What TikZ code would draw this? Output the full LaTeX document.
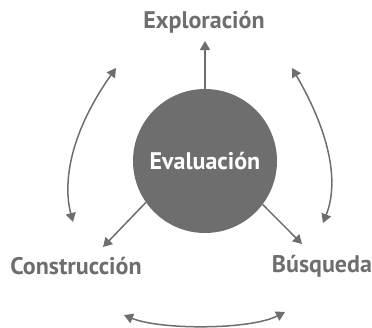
\documentclass[tikz,border=0pt]{standalone}
\usepackage{fontspec}
\setmainfont{PT Sans}
\usetikzlibrary{arrows.meta}
\definecolor{fg}{HTML}{6E6E6E}
\begin{document}
\begin{tikzpicture}[x=1pt,y=-1pt,
  lbl/.style={text=fg,font=\fontsize{24}{28}\selectfont\bfseries,inner sep=0pt},
  con/.style={draw=fg,line width=1.5pt,-{Triangle[length=9pt,width=10pt]}},
  dcon/.style={draw=fg,line width=1.5pt,{Triangle[length=9pt,width=10pt]}-{Triangle[length=9pt,width=10pt]}}]
\useasboundingbox (0,0) rectangle (372,327);
\node[circle,fill=fg,minimum size=144pt,inner sep=0pt,text=white,font=\fontsize{24}{28}\selectfont\bfseries] (E) at (205,161) {Evaluación};
\node[lbl] (X) at (204,22) {Exploración};
\node[lbl] (C) at (76,266) {Construcción};
\node[lbl] (B) at (322,266) {Búsqueda};
\coordinate (tX) at (205,41);
\coordinate (tC) at (103,247);
\coordinate (tB) at (302,244);
\coordinate (l1) at (116,68);
\coordinate (l2) at (73,222);
\coordinate (r1) at (292,68);
\coordinate (r2) at (323,223);
\coordinate (b1) at (124,315);
\coordinate (b2) at (285,312);
\draw[con] (E.north) -- (tX);
\draw[con] (E.-145) -- (tC);
\draw[con] (E.-37) -- (tB);
\draw[dcon] (l1) .. controls (72,130) and (62,180) .. (l2);
\draw[dcon] (r1) .. controls (328,130) and (340,180) .. (r2);
\draw[dcon] (b1) .. controls (160,330) and (250,330) .. (b2);
\end{tikzpicture}
\end{document}
